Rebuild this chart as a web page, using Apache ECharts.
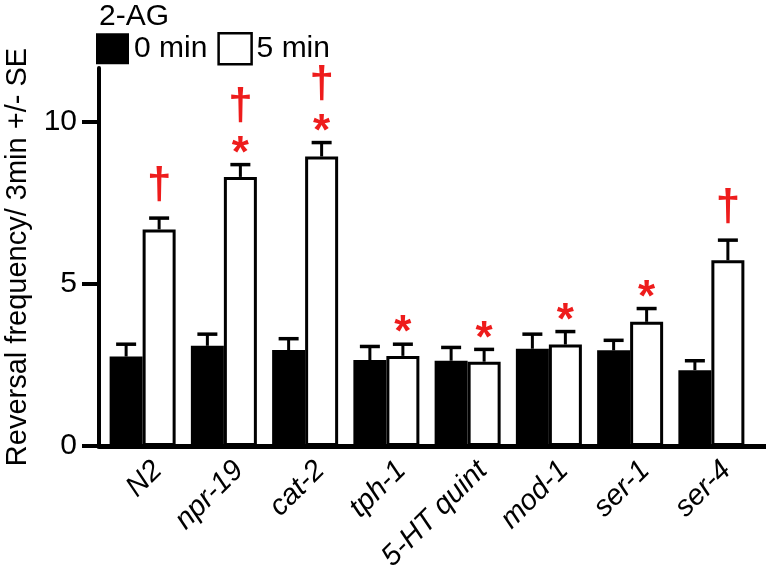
<!DOCTYPE html>
<html><head><meta charset="utf-8">
<script src="https://cdn.jsdelivr.net/npm/echarts@6/dist/echarts.min.js"></script>
<style>html,body{margin:0;padding:0;background:#fff}#c{width:766px;height:576px}</style>
</head><body><div id="c"></div>
<script>
// ---- data ----
const categories = ['N2', 'npr-19', 'cat-2', 'tph-1', '5-HT quint', 'mod-1', 'ser-1', 'ser-4'];
const min0 = [2.76, 3.09, 2.96, 2.65, 2.63, 3.00, 2.95, 2.34];
const se0  = [0.38, 0.36, 0.35, 0.42, 0.41, 0.45, 0.31, 0.29];
const min5 = [6.68, 8.30, 8.93, 2.78, 2.60, 3.13, 3.83, 5.73];
const se5  = [0.35, 0.38, 0.43, 0.36, 0.38, 0.40, 0.41, 0.62];
const dagger5 = [true, true, true, false, false, false, false, true];
const star5   = [false, true, true, true, true, true, true, false];
const yTicks = [0, 5, 10];
const yMax = 11.66;

// ---- styling ----
const FONT = '"Liberation Sans", Arial, Helvetica, sans-serif';
const BAR_W = 33;
const RED = '#ee1c1c';

function errRender(offset, withMarks) {
  return function (params, api) {
    const i = api.value(0), v = api.value(1), e = api.value(2);
    const base = api.coord([i, v]);
    const top = api.coord([i, v + e]);
    const x = base[0] + offset;
    const children = [
      { type: 'line', shape: { x1: x, y1: base[1], x2: x, y2: top[1] }, style: { stroke: '#000', lineWidth: 3 } },
      { type: 'line', shape: { x1: x - 10, y1: top[1], x2: x + 10, y2: top[1] }, style: { stroke: '#000', lineWidth: 3.5 } }
    ];
    if (withMarks) {
      const hasStar = star5[i], hasDag = dagger5[i];
      if (hasStar) {
        children.push({ type: 'text', style: { text: '*', x: x, y: top[1] - 10, fill: RED,
          fontSize: 44, fontWeight: 'bold', fontFamily: FONT, align: 'center', verticalAlign: 'middle' } });
      }
      if (hasDag) {
        const c = hasStar ? top[1] - 58 : top[1] - 32;
        children.push({ type: 'text', style: { text: '\u2020', x: x, y: c, fill: RED,
          fontSize: 44, fontWeight: 'bold', fontFamily: FONT, align: 'center', verticalAlign: 'middle' } });
      }
    }
    return { type: 'group', children: children };
  };
}

const chart = echarts.init(document.getElementById('c'), null, { renderer: 'canvas' });
chart.setOption({
  animation: false,
  backgroundColor: '#fff',
  textStyle: { fontFamily: FONT, color: '#000' },
  title: {
    text: '2-AG', left: 99, top: 2, padding: 0,
    textStyle: { fontSize: 30, fontWeight: 'normal', color: '#000', fontFamily: FONT }
  },
  legend: {
    left: 96, top: 32, padding: 0, itemWidth: 33, itemHeight: 31, itemGap: 10,
    icon: 'rect',
    textStyle: { fontSize: 30, color: '#000', fontFamily: FONT },
    data: [
      { name: '0 min', itemStyle: { color: '#000', borderWidth: 0 } },
      { name: '5 min', itemStyle: { color: '#fff', borderColor: '#000', borderWidth: 2.5 } }
    ]
  },
  grid: [
    // main plot area
    { left: 102, right: 14, top: 68, bottom: 130, containLabel: false, outerBoundsMode: 'none' },
    // full-width baseline
    { left: 99, right: 0, bottom: 130, height: 10, containLabel: false, outerBoundsMode: 'none' },
    // category label band (labels sit slightly right of the group centers)
    { left: 117, width: 650, top: 68, bottom: 130, containLabel: false, outerBoundsMode: 'none' }
  ],
  xAxis: [
    {
      type: 'category', data: categories, gridIndex: 0,
      axisLine: { show: true, lineStyle: { color: '#000', width: 5 } },
      axisTick: { show: false }, axisLabel: { show: false }
    },
    {
      type: 'value', gridIndex: 1, position: 'bottom',
      axisLine: { show: true, onZero: false, lineStyle: { color: '#000', width: 5 } },
      axisTick: { show: false }, axisLabel: { show: false }, splitLine: { show: false }
    },
    {
      type: 'category', data: categories, gridIndex: 2, position: 'bottom',
      axisLine: { show: false, onZero: false }, axisTick: { show: false },
      axisLabel: { interval: 0, rotate: 45, fontSize: 29, fontStyle: 'italic', color: '#000', margin: 20, fontFamily: FONT }
    }
  ],
  yAxis: [
    {
      type: 'value', gridIndex: 0, min: 0, max: yMax, interval: 5, offset: 3,
      name: 'Reversal frequency/ 3min +/- SE', nameLocation: 'middle', nameGap: 64,
      nameTextStyle: { fontSize: 29, color: '#000', fontFamily: FONT },
      axisLine: { show: true, lineStyle: { color: '#000', width: 4 } },
      axisTick: { show: true, length: 17, lineStyle: { color: '#000', width: 4 }, customValues: yTicks },
      axisLabel: { fontSize: 30, color: '#000', margin: 22, fontFamily: FONT, customValues: yTicks,
        formatter: function (v) { return yTicks.indexOf(v) >= 0 ? String(v) : ''; } },
      splitLine: { show: false }
    },
    { type: 'value', gridIndex: 1, show: false },
    { type: 'value', gridIndex: 2, show: false }
  ],
  series: [
    {
      name: '0 min', type: 'bar', data: min0, barWidth: BAR_W, barGap: '0%',
      itemStyle: { color: '#000' }, z: 2
    },
    {
      name: '5 min', type: 'bar', data: min5, barWidth: BAR_W, barGap: '0%',
      itemStyle: { color: '#fff', borderColor: '#000', borderWidth: 3 }, z: 3
    },
    {
      type: 'custom', name: 'err0', renderItem: errRender(-BAR_W / 2, false),
      data: min0.map((v, i) => [i, v, se0[i]]), z: 4, silent: true
    },
    {
      type: 'custom', name: 'err5', renderItem: errRender(BAR_W / 2, true),
      data: min5.map((v, i) => [i, v, se5[i]]), z: 4, silent: true
    }
  ]
});
</script>
</body></html>
